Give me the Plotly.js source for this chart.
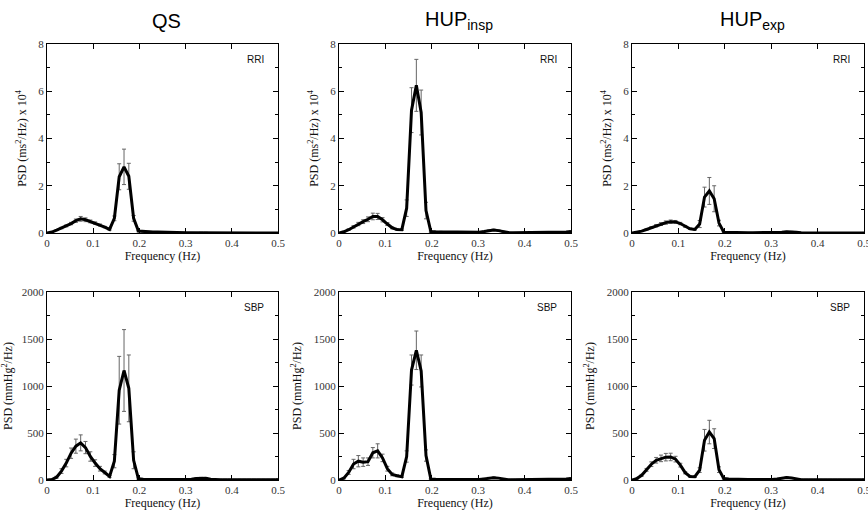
<!DOCTYPE html>
<html>
<head>
<meta charset="utf-8">
<script src="https://cdn.plot.ly/plotly-3.0.1.min.js"></script>
<style>html,body{margin:0;padding:0;background:#fff;}#chart{width:868px;height:510px;}</style>
</head>
<body>
<div id="chart"></div>
<script>
// Frequency grid (Hz)
const freq = [0, 0.0104, 0.0208, 0.0313, 0.0417, 0.0521, 0.0625, 0.0729, 0.0833, 0.0938,
  0.1042, 0.1146, 0.125, 0.1354, 0.1458, 0.1563, 0.1667, 0.1771, 0.1875, 0.1979,
  0.2083, 0.2188, 0.2292, 0.2396, 0.25, 0.2604, 0.2708, 0.2813, 0.2917, 0.3021,
  0.3125, 0.3229, 0.3333, 0.3438, 0.3542, 0.3646, 0.375, 0.3854, 0.3958, 0.4063,
  0.4167, 0.4271, 0.4375, 0.4479, 0.4583, 0.4688, 0.4792, 0.4896, 0.5];

// Column titles and panel labels
const conditions = ["QS", "HUP<sub>insp</sub>", "HUP<sub>exp</sub>"];
const signals = ["RRI", "SBP"];

// RRI PSD (ms^2/Hz x 10^4)
const qsRRI = [0, 0.04, 0.12, 0.21, 0.30, 0.40, 0.52, 0.60, 0.56, 0.49,
  0.42, 0.34, 0.25, 0.15, 0.62, 2.38, 2.80, 2.40, 0.62, 0.08,
  0.06, 0.05, 0.04, 0.04, 0.03, 0.03, 0.02, 0.02, 0.02, 0.01,
  0.01, 0.01, 0.02, 0.02, 0.01, 0.01, 0.01, 0, 0, 0,
  0, 0, 0, 0, 0, 0, 0, 0, 0];
const qsRRIerr = [0, 0.01, 0.02, 0.03, 0.04, 0.05, 0.07, 0.10, 0.08, 0.06,
  0.05, 0.04, 0.03, 0.03, 0.10, 0.55, 0.75, 0.55, 0.12, 0.03,
  0.02, 0.02, 0.02, 0.02, 0.01, 0.01, 0.01, 0.01, 0.01, 0.01,
  0.01, 0.01, 0.01, 0.01, 0.01, 0.01, 0.01, 0.01, 0.01, 0.01,
  0.01, 0.01, 0.01, 0.01, 0.01, 0.01, 0.01, 0.01, 0.01];

const inspRRI = [0, 0.05, 0.14, 0.26, 0.38, 0.48, 0.58, 0.70, 0.70, 0.56,
  0.38, 0.22, 0.15, 0.14, 1.05, 5.20, 6.25, 5.10, 0.95, 0.06,
  0.05, 0.05, 0.04, 0.04, 0.03, 0.03, 0.02, 0.02, 0.02, 0.03,
  0.06, 0.10, 0.13, 0.10, 0.05, 0.02, 0.01, 0.01, 0.01, 0.01,
  0.01, 0.01, 0.01, 0.01, 0.01, 0.01, 0.02, 0.04, 0.06];
const inspRRIerr = [0, 0.02, 0.03, 0.05, 0.07, 0.08, 0.10, 0.14, 0.13, 0.09,
  0.06, 0.04, 0.03, 0.03, 0.35, 0.95, 1.10, 0.95, 0.35, 0.03,
  0.02, 0.02, 0.02, 0.02, 0.01, 0.01, 0.01, 0.01, 0.01, 0.01,
  0.02, 0.03, 0.03, 0.03, 0.02, 0.01, 0.01, 0.01, 0.01, 0.01,
  0.01, 0.01, 0.01, 0.01, 0.01, 0.01, 0.01, 0.02, 0.02];

const expRRI = [0, 0.03, 0.08, 0.15, 0.23, 0.31, 0.38, 0.44, 0.48, 0.47,
  0.40, 0.28, 0.18, 0.15, 0.38, 1.52, 1.78, 1.45, 0.42, 0.03,
  0.02, 0.02, 0.02, 0.01, 0.01, 0.01, 0.01, 0.01, 0.01, 0.01,
  0.01, 0.03, 0.05, 0.05, 0.03, 0.01, 0, 0, 0, 0,
  0, 0, 0, 0, 0, 0, 0, 0, 0];
const expRRIerr = [0, 0.01, 0.02, 0.03, 0.04, 0.05, 0.06, 0.07, 0.07, 0.06,
  0.05, 0.04, 0.03, 0.03, 0.15, 0.42, 0.57, 0.55, 0.12, 0.02,
  0.01, 0.01, 0.01, 0.01, 0.01, 0.01, 0.01, 0.01, 0.01, 0.01,
  0.01, 0.01, 0.02, 0.02, 0.01, 0.01, 0.01, 0.01, 0.01, 0.01,
  0.01, 0.01, 0.01, 0.01, 0.01, 0.01, 0.01, 0.01, 0.01];

// SBP PSD (mmHg^2/Hz)
const qsSBP = [0, 5, 30, 95, 180, 285, 360, 395, 345, 250,
  180, 120, 80, 38, 200, 955, 1165, 975, 210, 12,
  8, 6, 5, 5, 5, 5, 5, 5, 5, 3,
  8, 15, 20, 18, 8, 3, 3, 3, 3, 3,
  3, 3, 3, 3, 3, 3, 3, 3, 3];
const qsSBPerr = [0, 3, 10, 25, 40, 55, 75, 85, 65, 50,
  35, 25, 15, 10, 70, 360, 435, 355, 90, 10,
  5, 5, 5, 5, 5, 5, 5, 5, 5, 5,
  5, 6, 8, 8, 5, 5, 5, 5, 5, 5,
  5, 5, 5, 5, 5, 5, 5, 5, 10];

const inspSBP = [0, 20, 80, 170, 200, 190, 195, 290, 310, 235,
  120, 60, 45, 35, 250, 1170, 1380, 1160, 260, 10,
  8, 7, 6, 5, 5, 4, 4, 3, 3, 5,
  12, 22, 25, 20, 10, 3, 3, 3, 3, 3,
  3, 3, 3, 3, 3, 3, 5, 10, 15];
const inspSBPerr = [0, 8, 20, 50, 60, 45, 40, 55, 75, 40,
  25, 15, 10, 8, 60, 160, 205, 170, 60, 6,
  4, 4, 4, 4, 4, 4, 4, 4, 4, 4,
  5, 6, 8, 6, 5, 4, 4, 4, 4, 4,
  4, 4, 4, 4, 4, 4, 4, 5, 6];

const expSBP = [0, 15, 50, 108, 168, 210, 230, 243, 245, 222,
  158, 78, 38, 35, 105, 423, 510, 440, 110, 15,
  10, 7, 6, 5, 4, 4, 3, 3, 3, 5,
  10, 20, 27, 22, 10, 3, 3, 3, 3, 3,
  3, 3, 3, 3, 3, 3, 3, 3, 3];
const expSBPerr = [0, 5, 10, 15, 25, 30, 35, 40, 40, 30,
  20, 12, 8, 8, 25, 115, 125, 105, 30, 6,
  4, 4, 4, 4, 4, 4, 4, 4, 4, 4,
  4, 5, 6, 5, 4, 4, 4, 4, 4, 4,
  4, 4, 4, 4, 4, 4, 4, 4, 6];

const xTicks = [0, 0.1, 0.2, 0.3, 0.4, 0.5];
const xTickText = ["0", "0.1", "0.2", "0.3", "0.4", "0.5"];

const panels = [
  {y: qsRRI, e: qsRRIerr, row: 0, col: 0},
  {y: inspRRI, e: inspRRIerr, row: 0, col: 1},
  {y: expRRI, e: expRRIerr, row: 0, col: 2},
  {y: qsSBP, e: qsSBPerr, row: 1, col: 0},
  {y: inspSBP, e: inspSBPerr, row: 1, col: 1},
  {y: expSBP, e: expSBPerr, row: 1, col: 2}
];

const W = 868, H = 510;
const colPx = [[47, 278], [339, 571], [632, 864]];
const rowPx = [[44, 233], [292, 480]];

const serif = "'Liberation Serif', 'Times New Roman', serif";
const sans = "'Liberation Sans', Arial, sans-serif";

const data = [];
const layout = {
  width: W, height: H,
  margin: {l: 0, r: 0, t: 0, b: 0},
  paper_bgcolor: "#fff", plot_bgcolor: "#fff",
  showlegend: false,
  annotations: []
};

panels.forEach((p, i) => {
  const n = i + 1;
  const xa = "x" + (n === 1 ? "" : n), ya = "y" + (n === 1 ? "" : n);
  data.push({
    x: freq, y: p.y, xaxis: xa, yaxis: ya,
    type: "scatter", mode: "lines",
    line: {color: "#000", width: 3},
    error_y: {type: "data", array: p.e, visible: true, color: "#666", thickness: 1, width: 2},
    hoverinfo: "x+y"
  });
  const cx = colPx[p.col], ry = rowPx[p.row];
  const xkey = "xaxis" + (n === 1 ? "" : n), ykey = "yaxis" + (n === 1 ? "" : n);
  layout[xkey] = {
    domain: [cx[0] / W, cx[1] / W],
    anchor: ya,
    range: [0, 0.5],
    tickvals: xTicks, ticktext: xTickText,
    ticks: "inside", ticklen: 5, tickwidth: 1, tickcolor: "#000",
    showline: true, linecolor: "#000", linewidth: 1, mirror: "allticks",
    showgrid: false, zeroline: false,
    ticklabeloverflow: "allow",
    tickfont: {family: serif, size: 11, color: "#333"},
    title: {text: "Frequency (Hz)", font: {family: serif, size: 12, color: "#111"}, standoff: 1}
  };
  const isRRI = p.row === 0;
  layout[ykey] = {
    domain: [1 - ry[1] / H, 1 - ry[0] / H],
    anchor: xa,
    range: isRRI ? [0, 8] : [0, 2000],
    dtick: isRRI ? 2 : 500,
    ticks: "inside", ticklen: 5, tickwidth: 1, tickcolor: "#000",
    minor: {dtick: isRRI ? 1 : 250, ticks: "inside", ticklen: 3, tickcolor: "#000", showgrid: false},
    showline: true, linecolor: "#000", linewidth: 1, mirror: "allticks",
    showgrid: false, zeroline: false,
    tickfont: {family: serif, size: 11, color: "#333"},
    title: {
      text: isRRI ? "PSD (ms<sup>2</sup>/Hz) x 10<sup>4</sup>" : "PSD (mmHg<sup>2</sup>/Hz)",
      font: {family: serif, size: 12, color: "#111"}, standoff: 9
    }
  };
  // panel signal label
  layout.annotations.push({
    xref: "paper", yref: "paper",
    x: (cx[1] - 12) / W, y: 1 - (ry[0] + 15) / H,
    xanchor: "right", yanchor: "middle",
    text: signals[p.row], showarrow: false,
    font: {family: sans, size: 10, color: "#111"}
  });
  // column titles
  if (p.row === 0) {
    layout.annotations.push({
      xref: "paper", yref: "paper",
      x: ((cx[0] + cx[1]) / 2 + 4) / W, y: 1 - 21 / H,
      xanchor: "center", yanchor: "middle",
      text: conditions[p.col], showarrow: false,
      font: {family: sans, size: 20, color: "#000"}
    });
  }
});

Plotly.newPlot("chart", data, layout, {staticPlot: true, displayModeBar: false});
</script>
</body>
</html>
